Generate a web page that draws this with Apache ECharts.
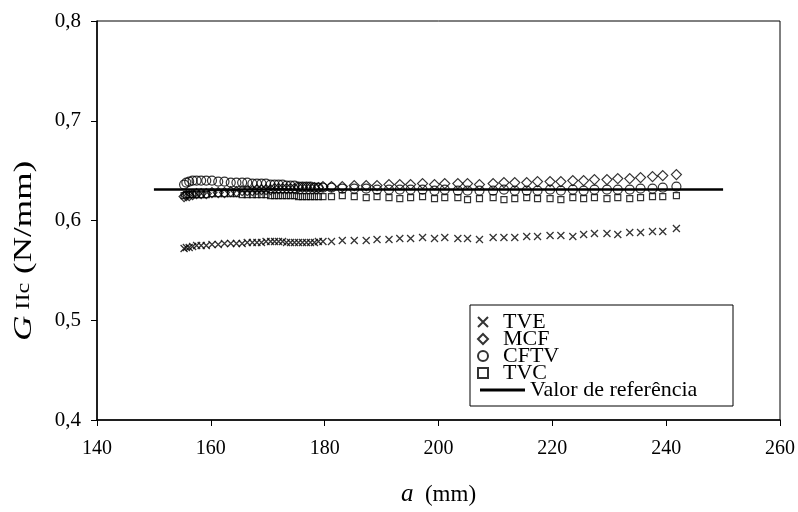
<!DOCTYPE html>
<html lang="pt">
<head>
    <meta charset="UTF-8">
    <title>GIIc</title>
    <script src="https://cdn.jsdelivr.net/npm/echarts@6/dist/echarts.min.js"></script>
    <style type="text/css">
        body {
            margin: 0;
            padding: 0;
            background-color: #fff;
        }

        #chart {
            width: 798px;
            height: 512px;
        }
    </style>
</head>
<body>
<div id="chart"></div>

<script>
    // comprimento de fenda a (mm)
    var crackLength = [155.3, 155.7, 156.2, 156.8, 157.5, 158.3, 159.2, 160.2,
        161.3, 162.4, 163.5, 164.5, 165.5, 166.4, 167.3, 168.1,
        168.9, 169.7, 170.5, 171.2, 171.9, 172.6, 173.3, 174.0,
        174.7, 175.4, 176.1, 176.8, 177.5, 178.2, 178.9, 179.7,
        181.2, 183.1, 185.2, 187.3, 189.2, 191.3, 193.2, 195.1,
        197.2, 199.3, 201.1, 203.4, 205.1, 207.2, 209.6, 211.5,
        213.4, 215.5, 217.4, 219.6, 221.5, 223.6, 225.5, 227.4,
        229.6, 231.5, 233.6, 235.5, 237.6, 239.4, 241.8];

    var tve = [0.572, 0.573, 0.573, 0.574, 0.575, 0.575, 0.575, 0.576,
        0.576, 0.577, 0.577, 0.577, 0.577, 0.578, 0.578, 0.578,
        0.578, 0.579, 0.579, 0.579, 0.579, 0.579, 0.578, 0.578,
        0.578, 0.578, 0.578, 0.578, 0.578, 0.578, 0.579, 0.579,
        0.579, 0.580, 0.580, 0.580, 0.581, 0.581, 0.582, 0.582,
        0.583, 0.582, 0.583, 0.582, 0.582, 0.581, 0.583, 0.583,
        0.583, 0.584, 0.584, 0.585, 0.585, 0.584, 0.586, 0.587,
        0.587, 0.586, 0.588, 0.588, 0.589, 0.589, 0.592];

    var mcf = [0.624, 0.625, 0.625, 0.626, 0.627, 0.627, 0.627, 0.628,
        0.628, 0.628, 0.629, 0.629, 0.630, 0.630, 0.630, 0.631,
        0.631, 0.631, 0.631, 0.632, 0.632, 0.632, 0.632, 0.632,
        0.632, 0.633, 0.633, 0.633, 0.633, 0.633, 0.633, 0.634,
        0.634, 0.634, 0.635, 0.635, 0.635, 0.636, 0.636, 0.636,
        0.637, 0.636, 0.637, 0.637, 0.637, 0.636, 0.637, 0.638,
        0.638, 0.638, 0.639, 0.639, 0.639, 0.640, 0.640, 0.641,
        0.641, 0.642, 0.642, 0.643, 0.644, 0.645, 0.646];

    var cftv = [0.636, 0.638, 0.639, 0.640, 0.640, 0.640, 0.640, 0.640,
        0.639, 0.639, 0.638, 0.638, 0.638, 0.638, 0.637, 0.637,
        0.637, 0.637, 0.636, 0.636, 0.636, 0.636, 0.635, 0.635,
        0.635, 0.634, 0.634, 0.634, 0.634, 0.633, 0.633, 0.633,
        0.633, 0.632, 0.632, 0.632, 0.631, 0.631, 0.631, 0.631,
        0.631, 0.630, 0.631, 0.630, 0.630, 0.630, 0.630, 0.631,
        0.630, 0.630, 0.630, 0.631, 0.630, 0.631, 0.630, 0.631,
        0.631, 0.631, 0.631, 0.632, 0.632, 0.633, 0.634];

    var tvc = [0.625, 0.626, 0.626, 0.626, 0.626, 0.626, 0.626, 0.627,
        0.627, 0.627, 0.627, 0.627, 0.626, 0.626, 0.626, 0.626,
        0.626, 0.626, 0.625, 0.625, 0.625, 0.625, 0.625, 0.625,
        0.625, 0.624, 0.624, 0.624, 0.624, 0.624, 0.624, 0.624,
        0.624, 0.625, 0.624, 0.623, 0.624, 0.623, 0.622, 0.623,
        0.624, 0.622, 0.623, 0.623, 0.621, 0.622, 0.623, 0.621,
        0.622, 0.623, 0.622, 0.622, 0.621, 0.623, 0.622, 0.623,
        0.622, 0.623, 0.622, 0.623, 0.624, 0.624, 0.625];

    // valor de referência
    var refX = [150, 250];
    var refValue = [0.631, 0.631];

    var seriesNames = ["TVE", "MCF", "CFTV", "TVC", "Valor de referência"];

    function zip(xs, ys) {
        return xs.map(function (x, i) { return [x, ys[i]]; });
    }

    var serif = "Liberation Serif";
    var hollow = {color: "transparent", borderColor: "#000", borderWidth: 1.2};
    var legendText = {fontFamily: serif, fontSize: 22, color: "#000"};

    var chart = echarts.init(document.getElementById("chart"));
    chart.setOption({
        animation: false,
        backgroundColor: "#fff",
        textStyle: {fontFamily: serif, color: "#000"},
        grid: {
            left: 97, right: 18, top: 21, bottom: 91,
            show: true, borderColor: "#000", borderWidth: 1
        },
        graphic: [{
            type: "rect",
            shape: {x: 470, y: 305, width: 263, height: 101},
            style: {fill: "#fff", stroke: "#000", lineWidth: 1},
            z: 50
        }, {
            // título do eixo y (esticado como no original)
            type: "text",
            x: 24, y: 251,
            rotation: Math.PI / 2,
            scaleX: 1.35,
            style: {
                text: "{i|G}{s| IIc} (N/mm)",
                fontFamily: serif, fontSize: 26, fill: "#000",
                align: "center", verticalAlign: "middle",
                rich: {
                    i: {fontFamily: serif, fontStyle: "italic", fontSize: 26},
                    s: {fontFamily: serif, fontSize: 18}
                }
            }
        }],
        legend: [{
            data: seriesNames.slice(0, 4),
            orient: "vertical",
            left: 472, top: 306,
            itemWidth: 10, itemHeight: 10, itemGap: -5,
            textStyle: Object.assign({padding: [0, 0, 0, 10]}, legendText),
            z: 60
        }, {
            data: [{name: seriesNames[4], icon: "rect"}],
            orient: "vertical",
            left: 475, top: 374,
            itemWidth: 45, itemHeight: 3,
            textStyle: legendText,
            z: 60
        }],
        xAxis: {
            type: "value",
            min: 140, max: 260, interval: 20,
            name: "{i|a}  (mm)",
            nameLocation: "middle",
            nameGap: 62,
            nameTextStyle: {
                fontFamily: serif, fontSize: 23, color: "#000",
                rich: {i: {fontFamily: serif, fontStyle: "italic", fontSize: 25}}
            },
            axisLine: {lineStyle: {color: "#000", width: 1.5}},
            axisTick: {length: 6, lineStyle: {color: "#000"}},
            axisLabel: {fontFamily: serif, fontSize: 20, color: "#000", margin: 19},
            splitLine: {show: false}
        },
        yAxis: {
            type: "value",
            min: 0.4, max: 0.8, interval: 0.1,
            axisLine: {lineStyle: {color: "#000", width: 1.5}},
            axisTick: {length: 6, lineStyle: {color: "#000"}},
            axisLabel: {
                fontFamily: serif, fontSize: 21, color: "#000", margin: 16,
                formatter: function (v) { return v.toFixed(1).replace(".", ","); }
            },
            splitLine: {show: false}
        },
        series: [{
            name: seriesNames[0],
            type: "scatter",
            symbol: "path://M0,0L10,10M10,0L0,10",
            symbolSize: 7,
            itemStyle: {color: "transparent", borderColor: "#000", borderWidth: 1.3},
            data: zip(crackLength, tve)
        }, {
            name: seriesNames[1],
            type: "scatter",
            symbol: "diamond",
            symbolSize: [10, 10],
            itemStyle: hollow,
            data: zip(crackLength, mcf)
        }, {
            name: seriesNames[2],
            type: "scatter",
            symbol: "circle",
            symbolSize: 9,
            itemStyle: hollow,
            data: zip(crackLength, cftv)
        }, {
            name: seriesNames[3],
            type: "scatter",
            symbol: "rect",
            symbolSize: 6,
            itemStyle: hollow,
            data: zip(crackLength, tvc)
        }, {
            name: seriesNames[4],
            type: "line",
            symbol: "none",
            lineStyle: {color: "#000", width: 2.5},
            itemStyle: {color: "#000"},
            data: zip(refX, refValue)
        }]
    });
</script>
</body>
</html>
